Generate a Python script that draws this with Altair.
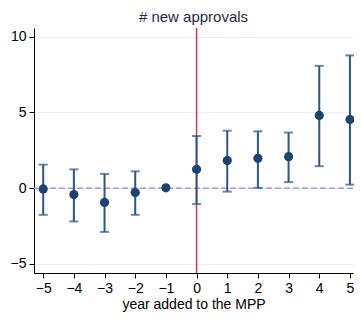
import altair as alt
import pandas as pd

years = [-5, -4, -3, -2, -1, 0, 1, 2, 3, 4, 5]
est = [-0.05, -0.42, -0.94, -0.29, 0.02, 1.24, 1.82, 1.97, 2.08, 4.80, 4.53]
lo = [-1.76, -2.20, -2.89, -1.76, 0.02, -1.05, -0.23, 0.02, 0.40, 1.45, 0.23]
hi = [1.55, 1.24, 0.94, 1.11, 0.02, 3.44, 3.79, 3.75, 3.67, 8.07, 8.76]
y_ticks = [-5, 0, 5, 10]

df = pd.DataFrame({"x": years, "est": est, "lo": lo, "hi": hi})
df_ci = df[df["hi"] > df["lo"]]

FONT = "Liberation Sans"
xs = alt.Scale(domain=[-5.3, 5.1], nice=False, zero=False)
ys = alt.Scale(domain=[-5.6, 10.57], nice=False, zero=False)

X_AX = alt.Axis(values=years, format="d", title="year added to the MPP",
                grid=False, labelOverlap=False, labelBound=False)
Y_AX = alt.Axis(values=y_ticks, title=None, grid=True, labelOverlap=False)


def X():
    return alt.X("x:Q", scale=xs, axis=X_AX)


def Y(field):
    return alt.Y(f"{field}:Q", scale=ys, axis=Y_AX)


points = alt.Chart(df).mark_circle(size=85, opacity=1, color="#1d4470").encode(
    x=X(), y=Y("est"))

bars = alt.Chart(df_ci).mark_rule(color="#2f5682", strokeWidth=2).encode(
    x=X(), y=Y("lo"), y2="hi:Q")
cap_lo = alt.Chart(df_ci).mark_tick(orient="horizontal", size=9, thickness=2, color="#2f5682").encode(
    x=X(), y=Y("lo"))
cap_hi = alt.Chart(df_ci).mark_tick(orient="horizontal", size=9, thickness=2, color="#2f5682").encode(
    x=X(), y=Y("hi"))

zero_line = alt.Chart(pd.DataFrame({"est": [0]})).mark_rule(
    color="#a196ee", strokeDash=[6, 3], strokeWidth=1.5).encode(y=Y("est"))
vline = alt.Chart(pd.DataFrame({"x": [0]})).mark_rule(
    color="#cf3a5c", strokeWidth=1.5).encode(x=X())

chart = alt.layer(zero_line, vline, bars, cap_lo, cap_hi, points).properties(
    width=319, height=245,
    autosize=alt.AutoSizeParams(type="none"),
    padding={"left": 26, "top": 20, "right": 1, "bottom": 40},
    title=alt.TitleParams("# new approvals", fontSize=15, fontWeight="normal",
                          color="#1e2a4a", font=FONT, anchor="middle", offset=2),
).configure_view(stroke=None).configure_axis(
    labelFont=FONT, titleFont=FONT, labelFontSize=14, titleFontSize=14,
    titleFontWeight="normal", labelColor="black", titleColor="black",
    domainColor="black", tickColor="black", tickSize=5, domainWidth=1,
    gridColor="#e9f0f0", labelPadding=3, titlePadding=2, labelOverlap=False,
)

chart.save("out.html", embed_options={"renderer": "svg", "actions": False})
